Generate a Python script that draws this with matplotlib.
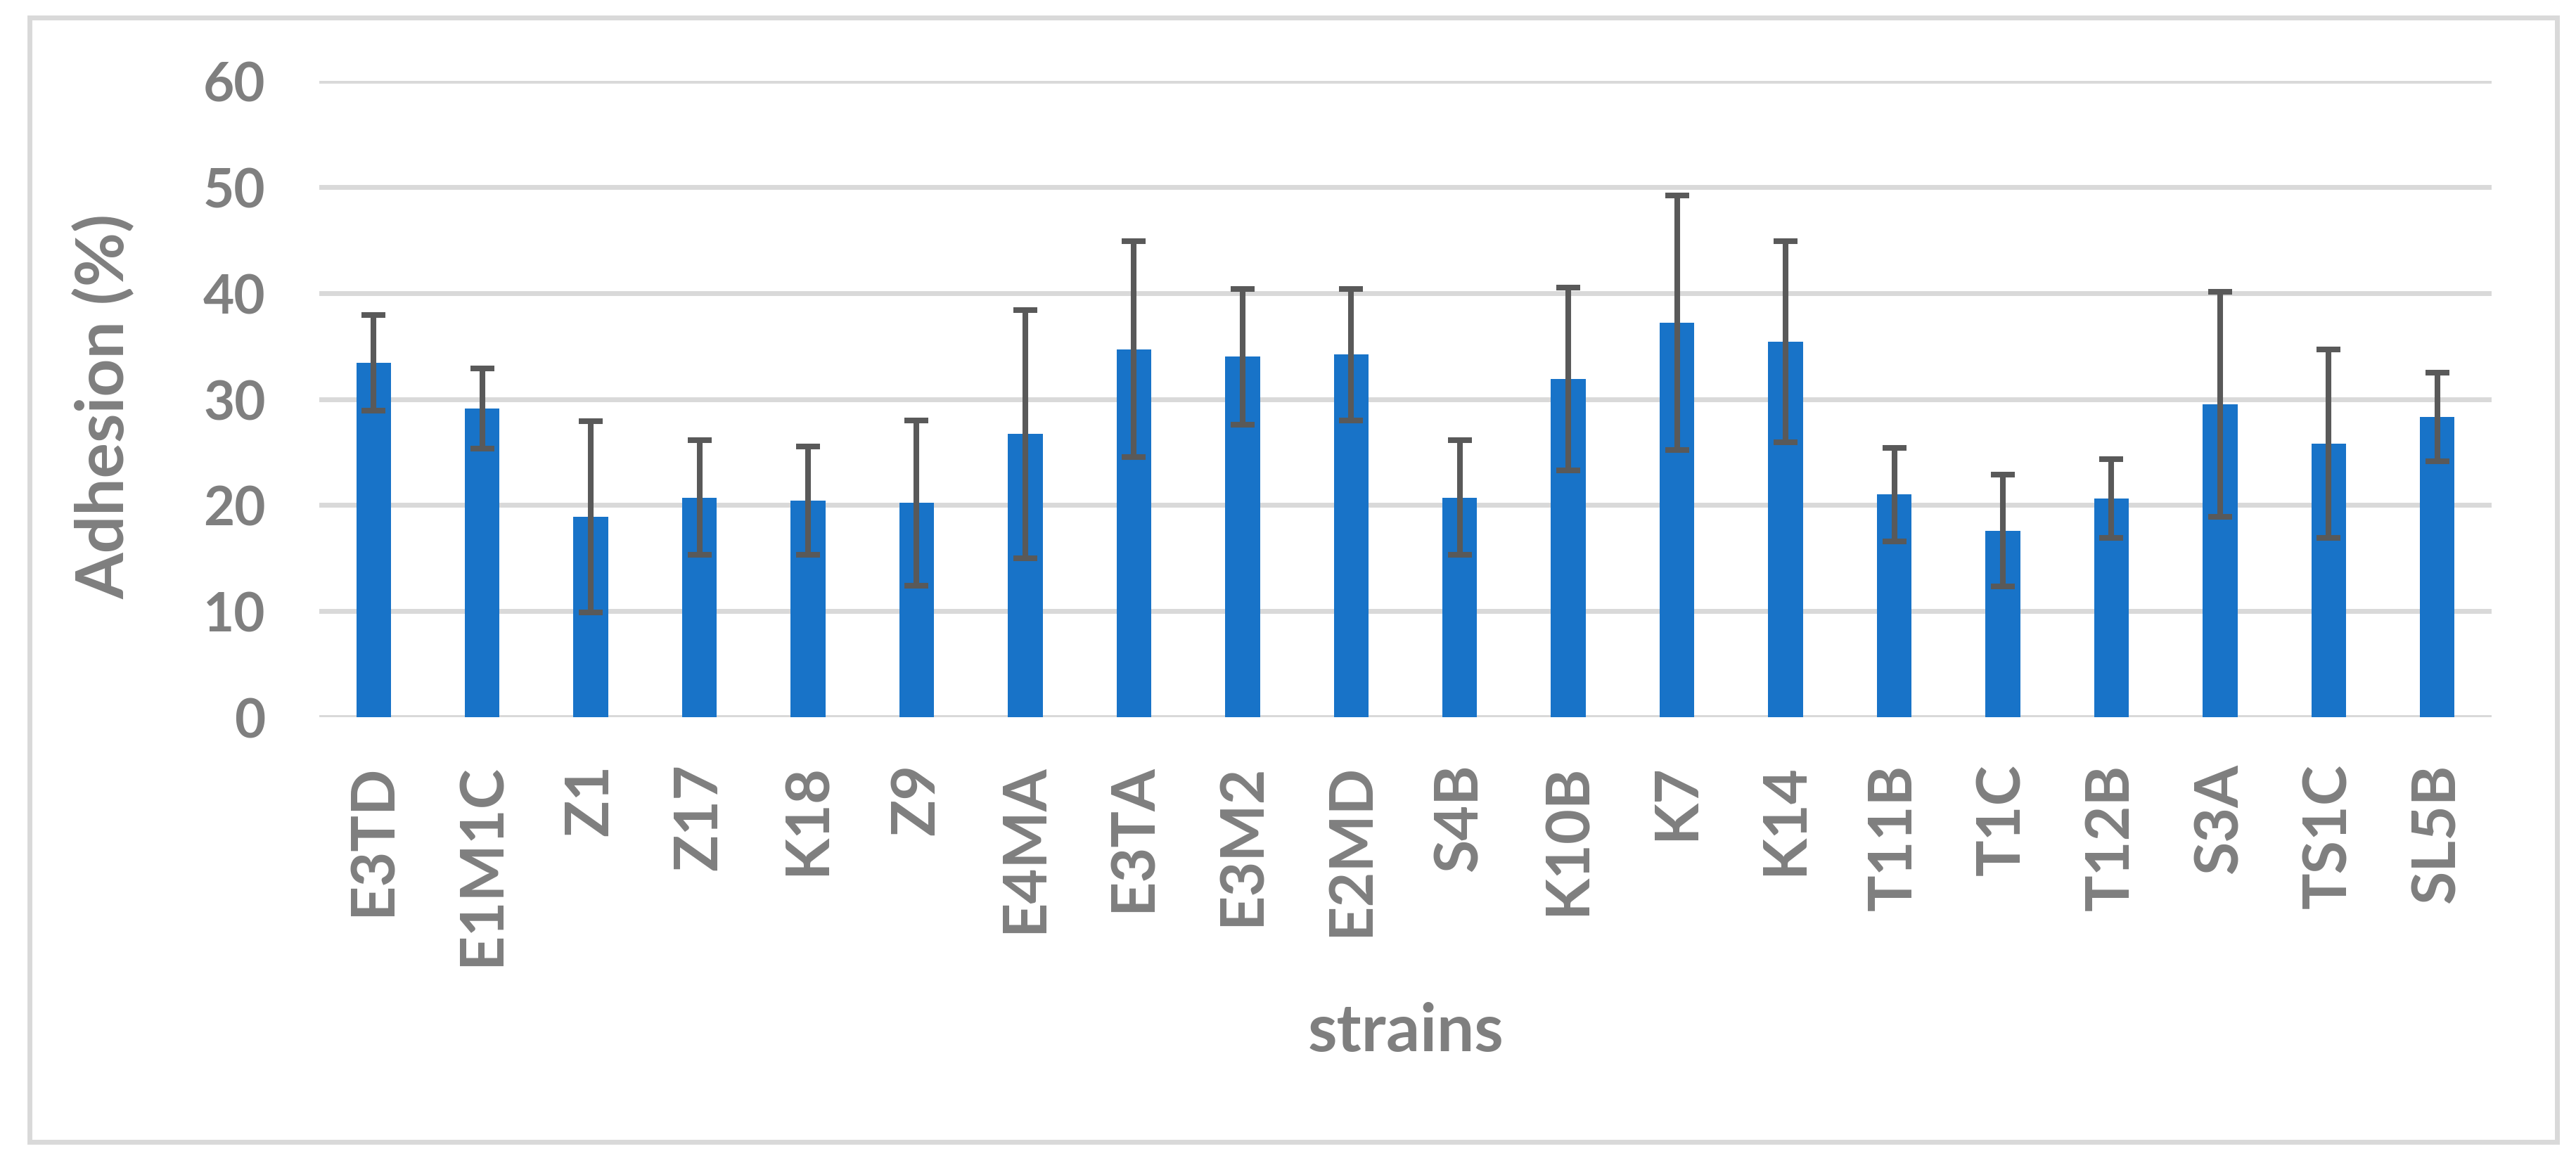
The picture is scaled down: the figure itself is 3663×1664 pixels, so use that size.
import matplotlib
matplotlib.use("Agg")
import matplotlib.pyplot as plt
from matplotlib.patches import Rectangle
import numpy as np

strains = ["E3TD", "E1M1C", "Z1", "Z17", "K18", "Z9", "E4MA", "E3TA", "E3M2", "E2MD",
           "S4B", "K10B", "K7", "K14", "T11B", "T1C", "T12B", "S3A", "TS1C", "SL5B"]
adhesion = [33.4, 29.1, 18.9, 20.7, 20.4, 20.2, 26.7, 34.7, 34.0, 34.2,
            20.7, 31.9, 37.2, 35.4, 21.0, 17.6, 20.6, 29.5, 25.8, 28.3]
errors = [4.5, 3.8, 9.0, 5.4, 5.1, 7.8, 11.7, 10.2, 6.4, 6.2,
          5.4, 8.6, 12.0, 9.5, 4.4, 5.3, 3.7, 10.6, 8.9, 4.2]
yticks = [0, 10, 20, 30, 40, 50, 60]

GREY = "#7f7f7f"
GRID = "#d9d9d9"


def main():
    plt.rcParams['font.family'] = ['Lato', 'DejaVu Sans']
    plt.rcParams['font.weight'] = 'bold'

    W, H = 3663, 1665
    fig = plt.figure(figsize=(W / 100, H / 100), dpi=100)
    ax = fig.add_axes([454 / W, 1 - 1021 / H, (3543 - 454) / W, (1021 - 116) / H])

    x = np.arange(len(strains))
    ax.bar(x, adhesion, width=0.32, color="#1873c8", zorder=2)
    # capsize is half the cap width in matplotlib
    ax.errorbar(x, adhesion, yerr=errors, fmt='none', ecolor="#595959",
                elinewidth=5.8, capsize=12, capthick=5.8, zorder=3)

    ax.set_xlim(-0.5, len(strains) - 0.5)
    ax.set_ylim(0, 60)
    ax.set_yticks(yticks)
    ax.set_xticks(x)
    ax.set_xticklabels(strains, rotation=90, fontsize=62, color=GREY, fontweight='bold')
    ax.tick_params(axis='y', labelsize=55, labelcolor=GREY, length=0, pad=55)
    ax.tick_params(axis='x', length=0, pad=47)
    ax.grid(axis='y', color=GRID, linewidth=5, zorder=0)
    ax.set_axisbelow(True)
    for s in ax.spines.values():
        s.set_visible(False)

    fig.text(148 / W, 1 - 578 / H, "Adhesion (%)", rotation=90, ha='center', va='center',
             fontsize=68, color=GREY, fontweight='bold')
    fig.text(1999 / W, 1 - 1495 / H, "strains", ha='center', va='baseline',
             fontsize=68, color=GREY, fontweight='bold')

    fig.patches.append(Rectangle((42 / W, 1 - 1625 / H), (3636 - 42) / W, (1625 - 26) / H,
                                 transform=fig.transFigure, fill=False,
                                 edgecolor=GRID, linewidth=5))

    fig.savefig("out.png", dpi=100)


if __name__ == "__main__":
    main()
